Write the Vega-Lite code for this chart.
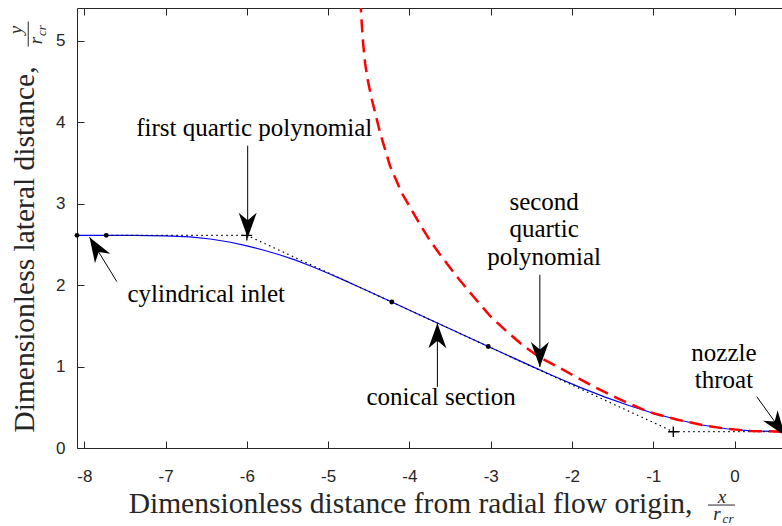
{
  "$schema": "https://vega.github.io/schema/vega-lite/v6.json",
  "width": 705,
  "height": 440,
  "autosize": {"type": "none"},
  "padding": {"left": 77, "top": 8, "right": 0, "bottom": 78},
  "background": "#ffffff",
  "config": {
    "view": {"stroke": "#262626", "strokeWidth": 1},
    "axis": {"labelFont": "Liberation Sans", "labelFontSize": 17, "labelColor": "#262626", "tickColor": "#262626", "domainColor": "#262626", "tickWidth": 1, "domainWidth": 1, "grid": false, "titleFont": "Liberation Serif", "titleFontSize": 29.5, "titleFontWeight": "normal", "titleColor": "#262626"}
  },
  "datasets": {
    "blue": [
      {"x": -8.09, "y": 2.61}, {"x": -7.73, "y": 2.61}, {"x": -7.4, "y": 2.609}, {"x": -7.0, "y": 2.603}, {"x": -6.7, "y": 2.59}, {"x": -6.45, "y": 2.565}, {"x": -6.2, "y": 2.525}, {"x": -6.0, "y": 2.48}, {"x": -5.8, "y": 2.43}, {"x": -5.6, "y": 2.372}, {"x": -5.4, "y": 2.305}, {"x": -5.2, "y": 2.228}, {"x": -5.0, "y": 2.145}, {"x": -4.8, "y": 2.057}, {"x": -4.6, "y": 1.967}, {"x": -4.217, "y": 1.791}, {"x": -3.03, "y": 1.246}, {"x": -2.8, "y": 1.141}, {"x": -2.5, "y": 1.005}, {"x": -2.2, "y": 0.872}, {"x": -1.9, "y": 0.744}, {"x": -1.6, "y": 0.627}, {"x": -1.3, "y": 0.522}, {"x": -1.0, "y": 0.427}, {"x": -0.7, "y": 0.347}, {"x": -0.4, "y": 0.282}, {"x": -0.1, "y": 0.236}, {"x": 0.2, "y": 0.21}, {"x": 0.584, "y": 0.2}
    ],
    "red": [
      {"x": -4.615, "y": 5.75}, {"x": -4.598, "y": 5.4}, {"x": -4.586, "y": 5.2}, {"x": -4.57, "y": 4.97}, {"x": -4.545, "y": 4.72}, {"x": -4.51, "y": 4.5}, {"x": -4.463, "y": 4.28}, {"x": -4.36, "y": 3.866}, {"x": -4.237, "y": 3.456}, {"x": -4.094, "y": 3.129}, {"x": -3.99, "y": 2.95}, {"x": -3.868, "y": 2.74}, {"x": -3.766, "y": 2.576}, {"x": -3.622, "y": 2.371}, {"x": -3.417, "y": 2.105}, {"x": -3.213, "y": 1.859}, {"x": -3.007, "y": 1.62}, {"x": -2.802, "y": 1.429}, {"x": -2.598, "y": 1.255}, {"x": -2.392, "y": 1.11}, {"x": -2.146, "y": 0.98}, {"x": -1.983, "y": 0.89}, {"x": -1.737, "y": 0.755}, {"x": -1.6, "y": 0.688}, {"x": -1.45, "y": 0.615}, {"x": -1.3, "y": 0.548}, {"x": -1.1, "y": 0.462}, {"x": -1.0, "y": 0.427}, {"x": -0.7, "y": 0.347}, {"x": -0.4, "y": 0.282}, {"x": -0.1, "y": 0.236}, {"x": 0.2, "y": 0.21}, {"x": 0.584, "y": 0.2}
    ],
    "dotted": [
      {"x": -7.73, "y": 2.61}, {"x": -6.0, "y": 2.61}, {"x": -0.753, "y": 0.2}, {"x": 0.584, "y": 0.2}
    ],
    "dots": [
      {"x": -8.09, "y": 2.61}, {"x": -7.73, "y": 2.61}, {"x": -4.217, "y": 1.791}, {"x": -3.03, "y": 1.246}
    ],
    "plus": [
      {"x": -6.0, "y": 2.61}, {"x": -0.753, "y": 0.2}
    ],
    "arrows": [
      {"x": -5.99, "y": 3.71, "x2": -5.99, "y2": 2.58},
      {"x": -7.6, "y": 2.043, "x2": -7.936, "y2": 2.588},
      {"x": -3.656, "y": 0.75, "x2": -3.656, "y2": 1.532},
      {"x": -2.395, "y": 2.125, "x2": -2.395, "y2": 0.995},
      {"x": 0.273, "y": 0.63, "x2": 0.62, "y2": 0.15}
    ],
    "notes": [
      {"x": -5.91, "y": 3.833, "t": "first quartic polynomial"},
      {"x": -6.5, "y": 1.797, "t": "cylindrical inlet"},
      {"x": -3.61, "y": 0.528, "t": "conical section"},
      {"x": -2.343, "y": 2.915, "t": "second"},
      {"x": -2.343, "y": 2.588, "t": "quartic"},
      {"x": -2.343, "y": 2.248, "t": "polynomial"},
      {"x": -0.13, "y": 1.07, "t": "nozzle"},
      {"x": -0.13, "y": 0.737, "t": "throat"}
    ],
    "fracx": [{"x": -0.154, "y": -0.67, "t": "x"}, {"x": -0.215, "y": -0.878, "t": "r"}],
    "fracxsub": [{"x": -0.08, "y": -0.921, "t": "cr"}],
    "fracy": [{"x": -8.77, "y": 5.129, "t": "y"}, {"x": -8.518, "y": 5.0, "t": "r"}],
    "fracysub": [{"x": -8.469, "y": 5.123, "t": "cr"}],
    "barx": [{"x": -0.326, "x2": 0.006, "y": -0.7}],
    "bary": [{"x": -8.69, "y": 5.233, "y2": 4.926}]
  },
  "encoding": {
    "x": {"field": "x", "type": "quantitative", "scale": {"domain": [-8.09, 0.584], "nice": false, "zero": false}, "axis": null},
    "y": {"field": "y", "type": "quantitative", "scale": {"domain": [0, 5.4], "nice": false, "zero": false}, "axis": null}
  },
  "layer": [
    {
      "data": {"name": "blue"},
      "mark": {"type": "line", "color": "#0000ff", "strokeWidth": 1.2},
      "encoding": {
        "x": {"field": "x", "type": "quantitative", "scale": {"domain": [-8.09, 0.584], "nice": false, "zero": false},
          "axis": {"orient": "bottom", "values": [-8, -7, -6, -5, -4, -3, -2, -1, 0], "offset": -7, "tickSize": 7, "domain": false, "labelPadding": 20, "labelFlush": false, "labelExpr": "replace(datum.label, '−', '-')", "title": "Dimensionless distance from radial flow origin,", "titleX": 333, "titleY": 71.5, "titleBaseline": "alphabetic", "titleAlign": "center"}},
        "y": {"field": "y", "type": "quantitative", "scale": {"domain": [0, 5.4], "nice": false, "zero": false},
          "axis": {"orient": "left", "values": [0, 1, 2, 3, 4, 5], "offset": -7, "tickSize": 7, "domain": false, "labelPadding": 12, "title": "Dimensionless lateral distance,", "titleX": -51, "titleY": 241, "titleAngle": 270, "titleBaseline": "alphabetic", "titleAlign": "center"}}
      }
    },
    {
      "data": {"name": "dotted"},
      "mark": {"type": "line", "color": "#000000", "strokeWidth": 1.2, "strokeDash": [1.5, 3.5]},
      "encoding": {
        "x": {"field": "x", "type": "quantitative", "scale": {"domain": [-8.09, 0.584], "nice": false, "zero": false},
          "axis": {"orient": "top", "values": [-8, -7, -6, -5, -4, -3, -2, -1, 0], "offset": -7, "tickSize": 7, "labels": false, "title": null, "domain": false}}
      }
    },
    {
      "data": {"name": "red"},
      "mark": {"type": "line", "color": "#ff0000", "strokeWidth": 2.5, "strokeDash": [13, 7], "clip": true}
    },
    {
      "data": {"name": "dots"},
      "mark": {"type": "point", "filled": true, "color": "#000000", "size": 24, "opacity": 1}
    },
    {
      "data": {"name": "plus"},
      "mark": {"type": "point", "shape": "M-1,0H1M0,-1V1", "filled": false, "stroke": "#000000", "strokeWidth": 1.4, "size": 110, "opacity": 1}
    },
    {
      "data": {"name": "arrows"},
      "mark": {"type": "rule", "color": "#000000", "strokeWidth": 1},
      "encoding": {"x2": {"field": "x2"}, "y2": {"field": "y2"}}
    },
    {
      "data": {"name": "arrows"},
      "transform": [{"calculate": "atan2(datum.x2 - datum.x, datum.y2 - datum.y) * 180 / PI", "as": "angle"}],
      "mark": {"type": "point", "shape": "M0,0L0.72,2L0,1.4L-0.72,2Z", "filled": true, "color": "#000000", "size": 625, "opacity": 1},
      "encoding": {
        "x": {"field": "x2", "type": "quantitative", "scale": {"domain": [-8.09, 0.584], "nice": false, "zero": false}, "axis": null},
        "y": {"field": "y2", "type": "quantitative", "scale": {"domain": [0, 5.4], "nice": false, "zero": false}, "axis": null},
        "angle": {"field": "angle", "type": "quantitative", "scale": null}
      }
    },
    {
      "data": {"name": "notes"},
      "mark": {"type": "text", "font": "Liberation Serif", "fontSize": 25, "color": "#000000", "align": "center", "baseline": "alphabetic"},
      "encoding": {"text": {"field": "t"}}
    },
    {
      "data": {"name": "fracx"},
      "mark": {"type": "text", "font": "Liberation Serif", "fontStyle": "italic", "fontSize": 19, "color": "#262626", "align": "center", "baseline": "alphabetic"},
      "encoding": {"text": {"field": "t"}}
    },
    {
      "data": {"name": "fracxsub"},
      "mark": {"type": "text", "font": "Liberation Serif", "fontStyle": "italic", "fontSize": 13, "color": "#262626", "align": "center", "baseline": "alphabetic"},
      "encoding": {"text": {"field": "t"}}
    },
    {
      "data": {"name": "fracy"},
      "mark": {"type": "text", "font": "Liberation Serif", "fontStyle": "italic", "fontSize": 19, "color": "#262626", "align": "center", "baseline": "alphabetic", "angle": 270},
      "encoding": {"text": {"field": "t"}}
    },
    {
      "data": {"name": "fracysub"},
      "mark": {"type": "text", "font": "Liberation Serif", "fontStyle": "italic", "fontSize": 13, "color": "#262626", "align": "center", "baseline": "alphabetic", "angle": 270},
      "encoding": {"text": {"field": "t"}}
    },
    {
      "data": {"name": "barx"},
      "mark": {"type": "rule", "color": "#262626", "strokeWidth": 1},
      "encoding": {"x2": {"field": "x2"}}
    },
    {
      "data": {"name": "bary"},
      "mark": {"type": "rule", "color": "#262626", "strokeWidth": 1},
      "encoding": {"y2": {"field": "y2"}}
    }
  ],
  "resolve": {"axis": {"x": "independent", "y": "independent"}}
}
